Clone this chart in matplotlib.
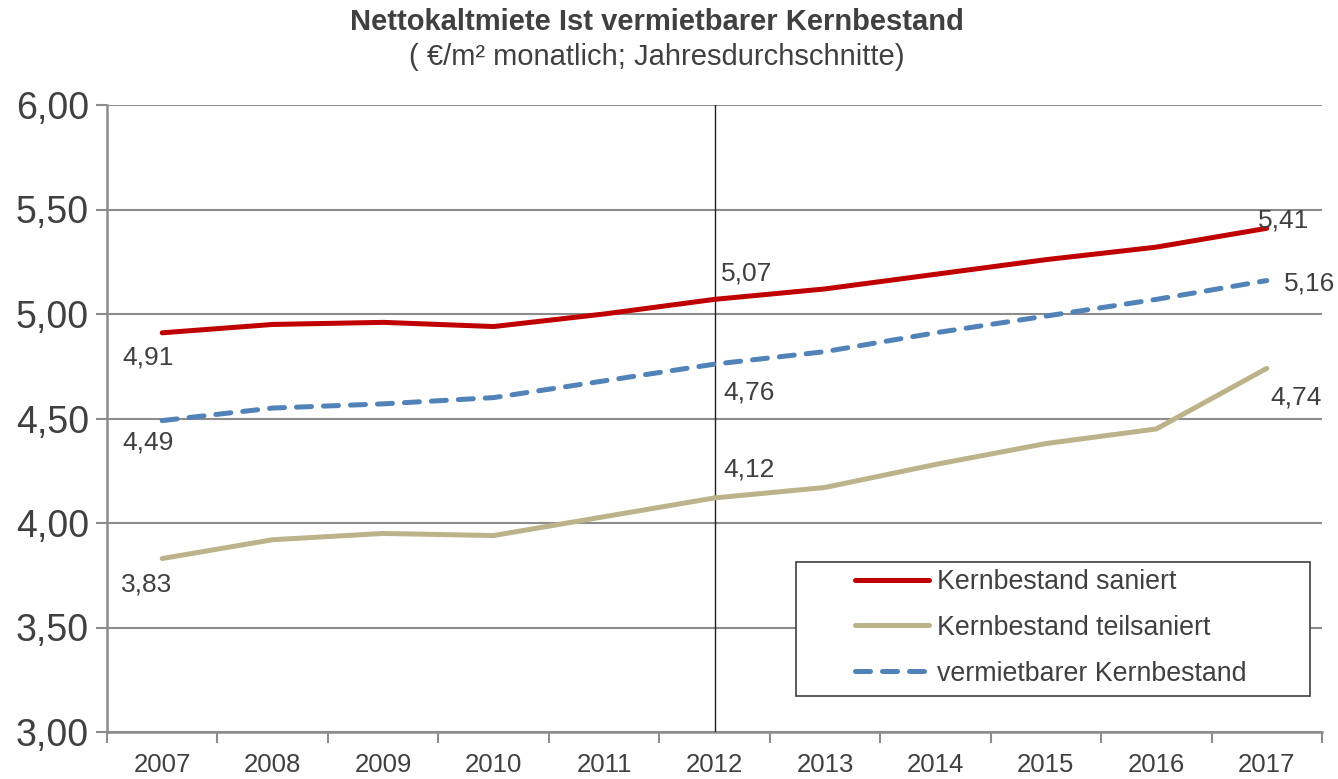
import matplotlib
matplotlib.use("Agg")
import matplotlib.pyplot as plt
from matplotlib.ticker import FuncFormatter, FixedLocator
from matplotlib.patches import Rectangle

plt.rcParams['font.family'] = ['Liberation Sans', 'DejaVu Sans']

years = ["2007", "2008", "2009", "2010", "2011", "2012", "2013", "2014", "2015", "2016", "2017"]
saniert = [4.91, 4.95, 4.96, 4.94, 5.00, 5.07, 5.12, 5.19, 5.26, 5.32, 5.41]
teilsaniert = [3.83, 3.92, 3.95, 3.94, 4.03, 4.12, 4.17, 4.28, 4.38, 4.45, 4.74]
vermietbar = [4.49, 4.55, 4.57, 4.60, 4.68, 4.76, 4.82, 4.91, 4.99, 5.07, 5.16]
y_ticks = [3.0, 3.5, 4.0, 4.5, 5.0, 5.5, 6.0]

title = "Nettokaltmiete Ist vermietbarer Kernbestand"
subtitle = "( €/m² monatlich; Jahresdurchschnitte)"
names = ["Kernbestand saniert", "Kernbestand teilsaniert", "vermietbarer Kernbestand"]

TXT = "#404040"
GRID = "#8c8c8c"
RED = "#C00000"
TAN = "#BDB38A"
BLUE = "#5283B8"

W, H = 1338, 779
fig = plt.figure(figsize=(W / 100, H / 100), dpi=100)
ax = fig.add_axes([107/W, 47/H, (1322-107)/W, (732-105)/H])

x = list(range(len(years)))
ax.plot(x, saniert, color=RED, lw=3.6, solid_capstyle='round', label=names[0], zorder=4)
ax.plot(x, teilsaniert, color=TAN, lw=3.6, solid_capstyle='round', label=names[1], zorder=4)
lv, = ax.plot(x, vermietbar, color=BLUE, lw=3.6, dash_capstyle='round', label=names[2], zorder=4)
lv.set_dashes([3.0, 2.4])

ax.set_xlim(-0.5, len(years) - 0.5)
ax.set_ylim(3.0, 6.0)

# vertical marker at 2012
ax.axvline(years.index("2012"), color="#202020", lw=1.0, zorder=3)

# grid
ax.set_yticks(y_ticks)
ax.yaxis.set_major_formatter(FuncFormatter(lambda v, p: f"{v:.2f}".replace(".", ",")))
ax.grid(axis='y', color=GRID, lw=1.5, zorder=1)
ax.set_axisbelow(True)

ax.xaxis.set_major_locator(FixedLocator([i - 0.5 for i in range(len(years) + 1)]))
ax.xaxis.set_minor_locator(FixedLocator(x))
ax.set_xticklabels([])
ax.set_xticklabels(years, minor=True)
ax.tick_params(axis='x', which='major', length=8, width=1.5, color=GRID, direction='out')
ax.tick_params(axis='x', which='minor', length=0, pad=15, labelsize=18.5, labelcolor=TXT)
ax.tick_params(axis='y', length=8, width=1.5, color=GRID, direction='out', labelsize=27, labelcolor=TXT, pad=5)

for s in ['top', 'right']:
    ax.spines[s].set_visible(False)
for s in ['left', 'bottom']:
    ax.spines[s].set_color(GRID)
    ax.spines[s].set_linewidth(1.8)

# data labels (offsets in pixels)
def lab(i, series, dx, dy):
    v = series[i]
    ax.annotate(f"{v:.2f}".replace(".", ","), xy=(i, v), xytext=(dx * 0.72, dy * 0.72),
                textcoords='offset points', ha='center', va='center', fontsize=19, color=TXT, zorder=5)

last = len(years) - 1
mid = years.index("2012")
lab(0, saniert, -14, -25)
lab(0, vermietbar, -14, -22)
lab(0, teilsaniert, -16, -26)
lab(mid, saniert, 32, 26)
lab(mid, vermietbar, 35, -28)
lab(mid, teilsaniert, 35, 28)
lab(last, saniert, 17, 8)
lab(last, vermietbar, 43, -3)
lab(last, teilsaniert, 29, -29)

# legend frame drawn manually
frame = Rectangle((796/W, 1 - 696/H), (1310-796)/W, (696-562)/H,
                  transform=fig.transFigure, fill=True, facecolor='white',
                  edgecolor="#404040", lw=1.2, zorder=6)
ax.add_patch(frame)
leg = ax.legend(loc='upper left', bbox_to_anchor=(855/W, 1 - 569/H), bbox_transform=fig.transFigure,
                fontsize=19.3, frameon=False, handlelength=2.75, handletextpad=0.3,
                borderpad=0, labelspacing=0.74, borderaxespad=0)
leg.set_zorder(7)
for t in leg.get_texts():
    t.set_color(TXT)

fig.text(657/W, 1 - 22/H, title, ha='center', va='center', fontsize=21, fontweight='bold', color=TXT)
fig.text(657/W, 1 - 57/H, subtitle, ha='center', va='center', fontsize=21, color=TXT)

fig.savefig("out.png", dpi=100)
